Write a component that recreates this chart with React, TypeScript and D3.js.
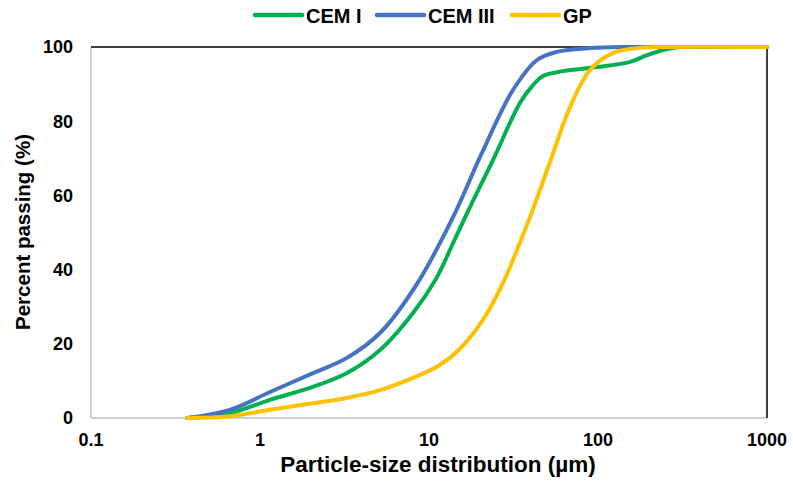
import * as d3 from 'd3';

// particle size (µm) and percent passing
const cemISize = [0.37, 0.663, 1.146, 2.06, 3.27, 5.13, 8.04, 11.0, 13.9, 18.2, 23.9, 34.5, 41, 47.3, 62.1, 98.6, 155, 195, 243, 306, 1000];
const cemIPassing = [0, 1.3, 4.9, 8.4, 12.1, 18.3, 28.3, 37.5, 47.2, 58.5, 69.5, 84.9, 89.6, 92.2, 93.5, 94.6, 96, 97.8, 99.2, 100, 100];

const cemIIISize = [0.37, 0.663, 1.146, 2.06, 3.27, 5.13, 8.4, 13.9, 20.5, 31.4, 43.6, 57.2, 89.7, 155, 1000];
const cemIIIPassing = [0, 2.2, 7, 12.1, 16.2, 22.9, 35.8, 54.2, 71.3, 88.4, 96.5, 98.7, 99.7, 100, 100];

const gpSize = [0.37, 0.663, 1.146, 2.06, 3.27, 5.13, 8.04, 11.6, 15.2, 20.9, 27.4, 39.6, 52, 68.3, 89.7, 123, 170, 243, 1000];
const gpPassing = [0, 0.5, 2.2, 4, 5.4, 7.5, 10.8, 14.3, 18.6, 26.5, 36.4, 54.2, 69, 83.8, 93.8, 98.4, 99.7, 100, 100];

const seriesNames = ['CEM I', 'CEM III', 'GP'];
const seriesColors = ['#00B050', '#4472C4', '#FFC000'];
const xTicks = [0.1, 1, 10, 100, 1000];
const yTicks = [0, 20, 40, 60, 80, 100];

const font = 'Liberation Sans, Arial, sans-serif';

export default function App() {
  const width = 793;
  const height = 482;
  const left = 91, right = 767, top = 47, bottom = 418;

  const x = d3.scaleLog().domain([0.1, 1000]).range([left, right]);
  const y = d3.scaleLinear().domain([0, 100]).range([bottom, top]);

  const line = d3
    .line<[number, number]>()
    .x((d) => x(d[0]))
    .y((d) => y(d[1]))
    .curve(d3.curveCatmullRom.alpha(0.5));

  const series = [
    d3.zip(cemISize, cemIPassing) as [number, number][],
    d3.zip(cemIIISize, cemIIIPassing) as [number, number][],
    d3.zip(gpSize, gpPassing) as [number, number][],
  ];

  // legend layout
  const legendX = [255, 377, 512];

  return (
    <svg width={width} height={height} style={{ position: 'absolute', left: 0, top: 0 }} fontFamily={font}>
      <rect width={width} height={height} fill="#fff" />
      <defs>
        {/* keep any spline overshoot from poking above 100 % */}
        <clipPath id="plot-clip">
          <rect x={left - 4} y={top - 2} width={right - left + 8} height={bottom - top + 6} />
        </clipPath>
      </defs>
      {/* axes */}
      <line x1={left} x2={left} y1={top} y2={bottom} stroke="#BFBFBF" strokeWidth={1.5} />
      <line x1={left} x2={right} y1={bottom} y2={bottom} stroke="#BFBFBF" strokeWidth={1.5} />
      <line x1={left} x2={right} y1={top} y2={top} stroke="#000" strokeWidth={1.5} />
      <line x1={right} x2={right} y1={top} y2={bottom} stroke="#000" strokeWidth={1.5} />

      {yTicks.map((t) => (
        <text key={t} x={73} y={y(t)} dy="0.35em" textAnchor="end" fontSize={18} fontWeight="bold">
          {t}
        </text>
      ))}
      {xTicks.map((t) => (
        <text key={t} x={x(t)} y={446} textAnchor="middle" fontSize={18} fontWeight="bold">
          {t}
        </text>
      ))}

      {series.map((s, i) => (
        <path key={i} d={line(s) || ''} fill="none" stroke={seriesColors[i]} strokeWidth={4} strokeLinecap="round" strokeLinejoin="round" clipPath="url(#plot-clip)" />
      ))}

      <text x={438} y={472} textAnchor="middle" fontSize={22.5} fontWeight="bold">
        Particle-size distribution (µm)
      </text>
      <text transform={`translate(30,232) rotate(-90)`} textAnchor="middle" fontSize={20.5} fontWeight="bold">
        Percent passing (%)
      </text>

      {seriesNames.map((n, i) => (
        <g key={n}>
          <line x1={legendX[i]} x2={legendX[i] + 47} y1={15} y2={15} stroke={seriesColors[i]} strokeWidth={4.5} strokeLinecap="round" />
          <text x={legendX[i] + 51} y={23} fontSize={20} fontWeight="bold">
            {n}
          </text>
        </g>
      ))}
    </svg>
  );
}
